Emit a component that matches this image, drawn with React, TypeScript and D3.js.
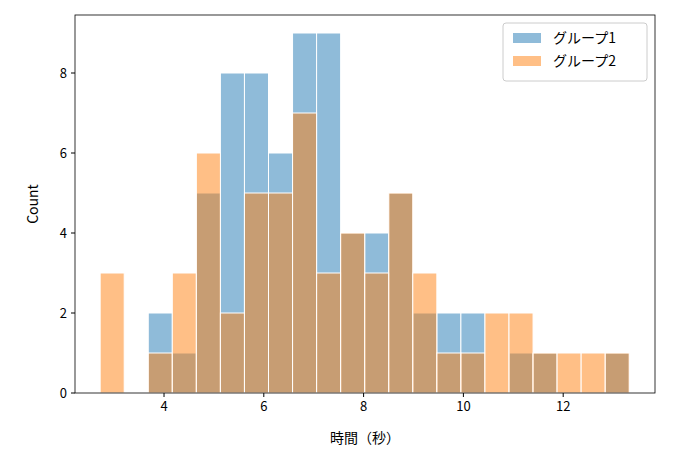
import * as d3 from 'd3';

const binStart = 2.72;
const binWidth = 0.482;
const group1 = [0, 0, 2, 1, 5, 8, 8, 6, 9, 9, 4, 4, 5, 2, 2, 2, 0, 1, 1, 0, 0, 1];
const group2 = [3, 0, 1, 3, 6, 2, 5, 5, 7, 3, 4, 3, 5, 3, 1, 1, 2, 2, 1, 1, 1, 1];
const xTicks = [4, 6, 8, 10, 12];
const yTicks = [0, 2, 4, 6, 8];
const series = [
  { name: 'グループ1', values: group1, color: '#1f77b4' },
  { name: 'グループ2', values: group2, color: '#ff7f0e' },
];

export default function App() {
  const W = 677, H = 461;
  const m = { l: 75, r: 655, t: 15, b: 393 };
  const x = d3.scaleLinear().domain([2.216, 13.84]).range([m.l, m.r]);
  const y = d3.scaleLinear().domain([0, 9.45]).range([m.b, m.t]);
  const font = "'Noto Sans CJK JP', 'DejaVu Sans', sans-serif";
  return (
    <svg width={W} height={H} style={{ position: 'absolute', left: 0, top: 0 }} fontFamily={font}>
      <rect width={W} height={H} fill="white" />
      {series.map(s => (
        <g key={s.name}>
          {s.values.map((v, i) => v > 0 && (
            <rect key={i}
              x={x(binStart + i * binWidth)} y={y(v)}
              width={x(binStart + (i + 1) * binWidth) - x(binStart + i * binWidth)}
              height={y(0) - y(v)}
              fill={s.color} fillOpacity={0.5} stroke="white" strokeWidth={1} />
          ))}
        </g>
      ))}
      <rect x={m.l} y={m.t} width={m.r - m.l} height={m.b - m.t} fill="none" stroke="black" strokeWidth={0.8} />
      {xTicks.map(t => (
        <g key={t} transform={`translate(${x(t)},${m.b})`}>
          <line y2={4} stroke="black" />
          <text y={18} textAnchor="middle" fontSize={13}>{t}</text>
        </g>
      ))}
      {yTicks.map(t => (
        <g key={t} transform={`translate(${m.l},${y(t)})`}>
          <line x2={-4} stroke="black" />
          <text x={-8} dy="0.35em" textAnchor="end" fontSize={13}>{t}</text>
        </g>
      ))}
      <text x={(m.l + m.r) / 2} y={443} textAnchor="middle" fontSize={14}>時間（秒）</text>
      <text transform={`translate(38,${(m.t + m.b) / 2}) rotate(-90)`} textAnchor="middle" fontSize={14}>Count</text>
      <g transform="translate(503,23)">
        <rect width={144} height={58} rx={3} fill="white" fillOpacity={0.8} stroke="#ccc" />
        {series.map((s, i) => (
          <g key={s.name} transform={`translate(10,${10 + i * 23})`}>
            <rect width={28} height={10} fill={s.color} fillOpacity={0.5} />
            <text x={40} y={10} fontSize={14}>{s.name}</text>
          </g>
        ))}
      </g>
    </svg>
  );
}
